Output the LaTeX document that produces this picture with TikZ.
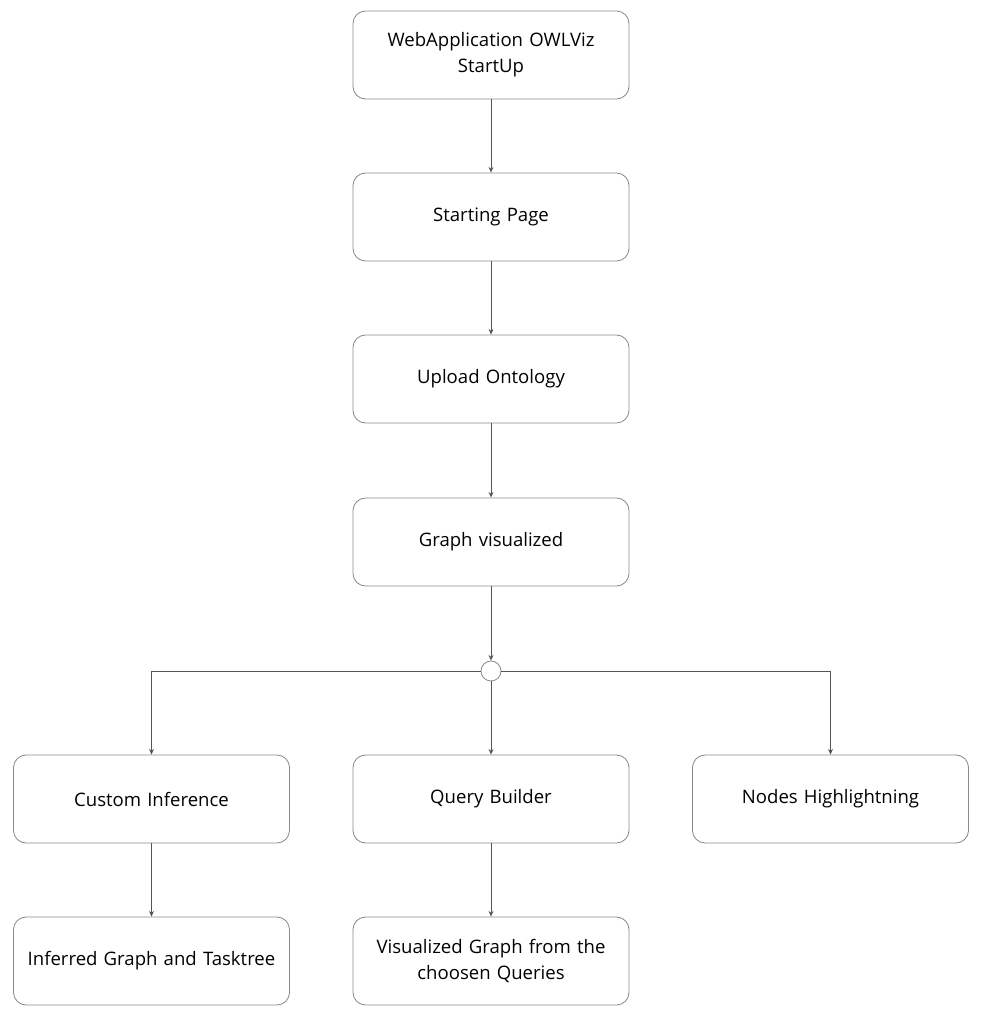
\documentclass[tikz,border=0pt]{standalone}
\usepackage{fontspec}
\setmainfont{Open Sans}
\definecolor{flowline}{HTML}{555555}
\definecolor{flowbox}{HTML}{8A8A8A}
\usetikzlibrary{arrows.meta, positioning}

\begin{document}
\begin{tikzpicture}[x=0.025cm, y=-0.025cm,
  stepbox/.style={rounded corners=9pt, minimum width=6.9cm, minimum height=2.2cm,
              draw=flowbox, line width=0.6pt, align=center, text width=6.4cm,
              font=\fontsize{13.2}{18.5}\selectfont, inner sep=4pt},
  junction/.style={circle, draw=flowbox, line width=0.6pt, minimum size=0.5cm, inner sep=0pt},
  flow/.style={draw=flowline, line width=0.6pt, -{Stealth[length=4pt, width=3.5pt]}},
]
  \useasboundingbox (0,0) rectangle (983,1016);

  \node[stepbox] (startup) at (491,55)  {WebApplication OWLViz\\StartUp};
  \node[stepbox] (startpg) at (491,217) {Starting Page};
  \node[stepbox] (upload)  at (491,379) {Upload Ontology};
  \node[stepbox] (graphvis) at (491,542) {Graph visualized};
  \node[junction] (split) at (491,671) {};
  \node[stepbox] (custominf) at (151.5,799) {Custom Inference};
  \node[stepbox] (querybld)  at (491,799)   {Query Builder};
  \node[stepbox] (highlight) at (830.5,799) {Nodes Highlightning};
  \node[stepbox] (inferred)  at (151.5,961) {Inferred Graph and Tasktree};
  \node[stepbox] (queryvis)  at (491,961)   {Visualized Graph from the\\choosen Queries};

  \draw[flow] (startup) -- (startpg);
  \draw[flow] (startpg) -- (upload);
  \draw[flow] (upload) -- (graphvis);
  \draw[flow] (graphvis) -- (split);
  \draw[flow] (split.west) -| (custominf.north);
  \draw[flow] (split) -- (querybld);
  \draw[flow] (split.east) -| (highlight.north);
  \draw[flow] (custominf) -- (inferred);
  \draw[flow] (querybld) -- (queryvis);
\end{tikzpicture}
\end{document}
